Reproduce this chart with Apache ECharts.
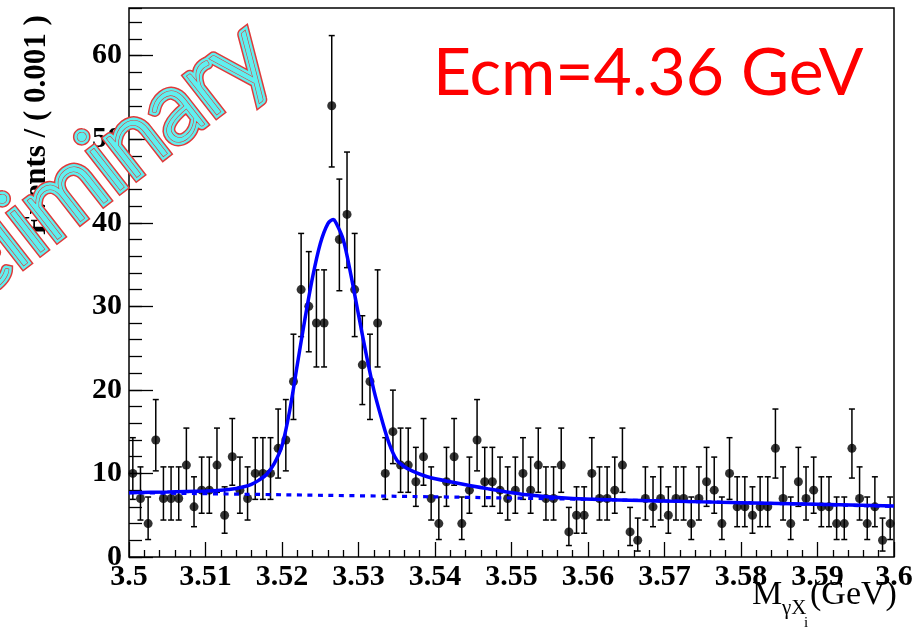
<!DOCTYPE html>
<html><head><meta charset="utf-8">
<script src="https://cdn.jsdelivr.net/npm/echarts/dist/echarts.min.js"></script>
<style>html,body{margin:0;padding:0;background:#fff}#c{width:921px;height:633px}</style>
</head><body><div id="c"></div>
<script>
// ---- data ----
const binStart = 3.5, binWidth = 0.001;
const counts = [10,7,4,14,7,7,7,11,6,8, 8,11,5,12,8,7,10,10,10,13,
  14,21,32,30,28,28,54,38,41,32, 23,21,28,10,15,11,11,9,12,7,
  4,9,12,4,8,14,9,9,8,7, 8,10,8,11,7,7,11,3,5,5,
  10,7,7,8,11,3,2,7,6,7, 5,7,7,4,7,9,8,4,10,6,
  6,5,6,6,13,7,4,9,7,8, 6,6,4,4,13,7,4,6,2,4];
const fitX = [3.500,3.505,3.510,3.512,3.514,3.515,3.516,3.517,3.518,3.519,3.520,3.521,3.522,3.523,3.524,3.525,3.526,3.5267,3.527,3.528,3.529,3.530,3.531,3.532,3.533,3.534,3.535,3.536,3.537,3.539,3.542,3.547,3.552,3.558,3.570,3.580,3.590,3.600];
const fitY = [7.70,7.78,7.90,8.0,8.2,8.4,8.7,9.2,9.9,11.2,13.3,17.5,23.0,28.5,33.5,37.5,39.9,40.4,40.1,38.0,33.8,29.0,24.3,20.0,16.6,13.6,11.6,10.8,10.3,9.6,9.0,8.15,7.45,7.0,6.7,6.5,6.3,6.1];
const bgX = [3.50,3.52,3.54,3.56,3.58,3.60];
const bgY = [7.7,7.45,7.2,6.9,6.5,6.05];
const xTicks = {min:3.5, max:3.6, interval:0.01};
const yTicks = {min:0, max:65.7, interval:10, minor:2};

// ---- derived ----
const centers = counts.map((c,i)=>+(binStart + (i+0.5)*binWidth).toFixed(4));
const points = counts.map((c,i)=>[centers[i], c]);
// Poisson (Gehrels) 1-sigma intervals
const errs = counts.map((n,i)=>{
  const hi = n + Math.sqrt(n+0.75) + 1;
  const lo = n>0 ? n*Math.pow(1 - 1/(9*n) - 1/(3*Math.sqrt(n)),3) : 0;
  return [centers[i], lo, hi];
});
const fitData = fitX.map((x,i)=>[x,fitY[i]]);
const bgData = bgX.map((x,i)=>[x,bgY[i]]);

const chart = echarts.init(document.getElementById('c'), null, {renderer:'canvas'});
const serif = 'Liberation Serif';
const blue = '#0000ff';
const ang = 38*Math.PI/180;
const wmPos = [257, 43];
const wmBase = {text:'Preliminary', fontFamily:'Lato', fontWeight:300, fontSize:98, align:'right', verticalAlign:'middle'};
chart.setOption({
  animation:false,
  backgroundColor:'#fff',
  grid:{left:129, right:27, top:8, bottom:76, show:true, borderColor:'#000', borderWidth:1.5, backgroundColor:'#fff'},
  xAxis:{type:'value', min:xTicks.min, max:xTicks.max, interval:xTicks.interval,
    axisLine:{show:false},
    axisTick:{inside:true, length:15, lineStyle:{color:'#000', width:1.3}},
    minorTick:{show:true, splitNumber:5, length:7, lineStyle:{color:'#000', width:1.3}},
    splitLine:{show:false}, minorSplitLine:{show:false},
    axisLabel:{color:'#000', fontFamily:serif, fontWeight:'bold', fontSize:30, margin:5}},
  yAxis:[
    {type:'value', min:yTicks.min, max:yTicks.max, interval:yTicks.interval, position:'left',
     axisLine:{show:false}, splitLine:{show:false},
     axisTick:{inside:true, length:24, lineStyle:{color:'#000', width:1.3}},
     axisLabel:{showMaxLabel:false, color:'#000', fontFamily:serif, fontWeight:'bold', fontSize:30, margin:7}},
    {type:'value', min:yTicks.min, max:yTicks.max, interval:yTicks.minor, position:'left',
     axisLine:{show:false}, splitLine:{show:false},
     axisTick:{inside:true, length:13, lineStyle:{color:'#000', width:1.3}},
     axisLabel:{show:false}}
  ],
  series:[
    {type:'custom', xAxisIndex:0, yAxisIndex:0, z:2, data:errs,
     renderItem:function(params, api){
       const x=api.value(0), lo=api.value(1), hi=api.value(2);
       const p1=api.coord([x,lo]), p2=api.coord([x,hi]);
       const st={stroke:'#000', lineWidth:1.5};
       return {type:'group', children:[
         {type:'line', shape:{x1:p1[0],y1:p1[1],x2:p2[0],y2:p2[1]}, style:st},
         {type:'line', shape:{x1:p1[0]-3,y1:p1[1],x2:p1[0]+3,y2:p1[1]}, style:st},
         {type:'line', shape:{x1:p2[0]-3,y1:p2[1],x2:p2[0]+3,y2:p2[1]}, style:st}
       ]};
     }},
    {type:'scatter', data:points, symbol:'circle', symbolSize:9, itemStyle:{color:'#000'}, z:3},
    {type:'line', data:bgData, showSymbol:false, smooth:0.3, lineStyle:{color:blue, width:3.2, type:[5,5.5]}, z:4},
    {type:'line', data:fitData, showSymbol:false, smooth:0.3, lineStyle:{color:blue, width:3.5}, z:5}
  ],
  graphic:[
    {type:'text', x:37, y:125, rotation:Math.PI/2, z:50,
     style:{text:'Events / ( 0.001 )', fontFamily:serif, fontWeight:'bold', fontSize:31, fill:'#000', align:'center', verticalAlign:'middle'}},
    {type:'group', z:50, children:[
      {type:'text', x:752, y:612, style:{text:'M', fontFamily:serif, fontSize:34, fill:'#000', align:'left', verticalAlign:'bottom'}},
      {type:'text', x:782, y:619, style:{text:'γX', fontFamily:serif, fontSize:21, fill:'#000', align:'left', verticalAlign:'bottom'}},
      {type:'text', x:804, y:631, style:{text:'i', fontFamily:serif, fontSize:15, fill:'#000', align:'left', verticalAlign:'bottom'}},
      {type:'text', x:810, y:612, style:{text:'(GeV)', fontFamily:serif, fontSize:34, fill:'#000', align:'left', verticalAlign:'bottom'}}
    ]},
    {type:'text', x:433, y:74, z:50,
     style:{text:'Ecm=4.36 GeV', fontFamily:'Lato', fontSize:66, fill:'#ff0000', align:'left', verticalAlign:'middle'}},
    {type:'text', x:wmPos[0], y:wmPos[1], rotation:ang, z:60,
     style:Object.assign({}, wmBase, {fill:'#e03a3a', stroke:'#e03a3a', lineWidth:9, shadowBlur:5, shadowColor:'rgba(0,0,0,0.55)', shadowOffsetX:3, shadowOffsetY:4})},
    {type:'text', x:wmPos[0], y:wmPos[1], rotation:ang, z:61,
     style:Object.assign({}, wmBase, {fill:'#5ff0f0', stroke:'#5ff0f0', lineWidth:6})},
    {type:'text', x:wmPos[0], y:wmPos[1], rotation:ang, z:62,
     style:Object.assign({}, wmBase, {fill:'#5ff0f0', stroke:'#e03a3a', lineWidth:1.2})}
  ]
});
</script></body></html>
